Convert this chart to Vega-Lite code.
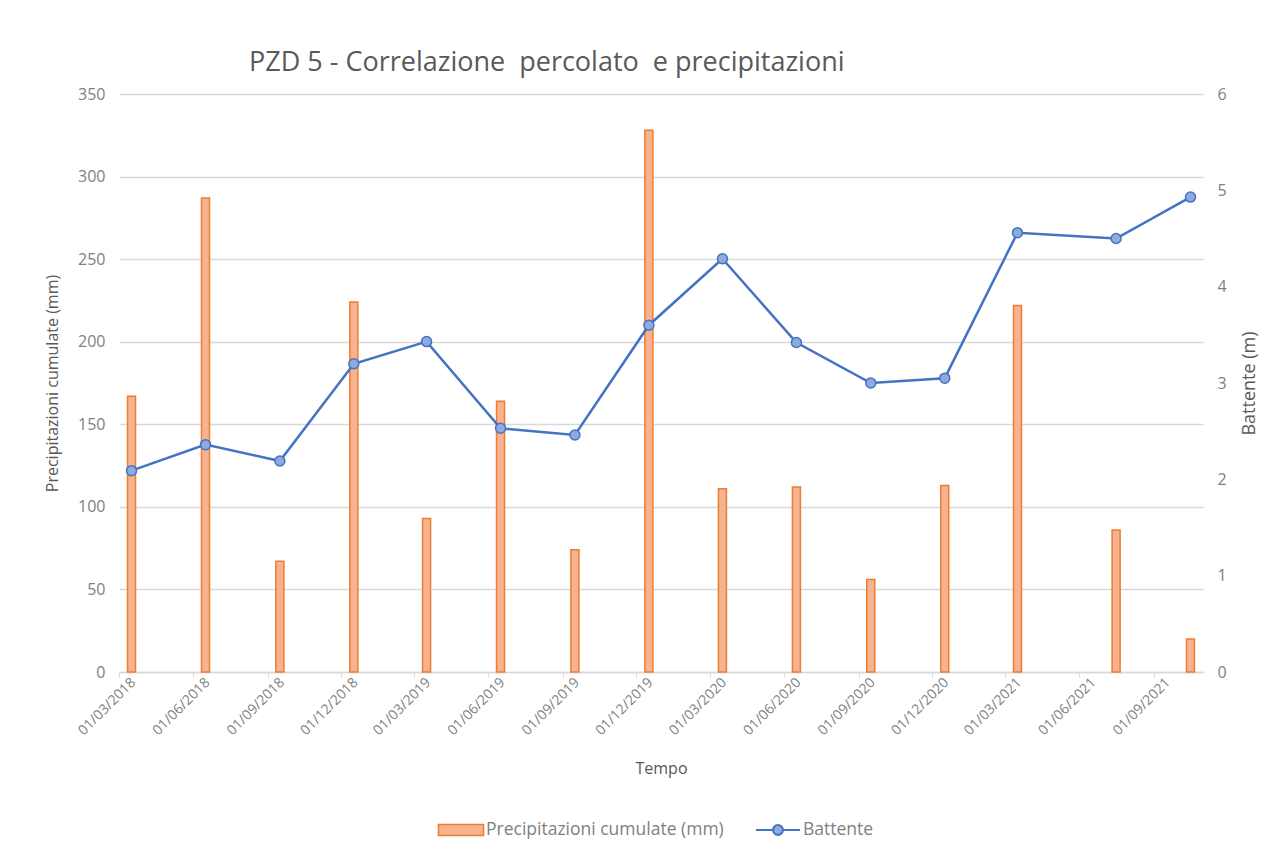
{
  "$schema": "https://vega.github.io/schema/vega-lite/v6.json",
  "width": 1084,
  "height": 578,
  "autosize": {"type": "none"},
  "padding": {"left": 119, "top": 94, "right": 76, "bottom": 180},
  "background": "white",
  "title": {
    "text": "PZD 5 - Correlazione\u00a0 percolato\u00a0 e precipitazioni",
    "anchor": "start",
    "frame": "group",
    "dx": 130,
    "offset": 9,
    "fontSize": 27,
    "fontWeight": "normal",
    "color": "#595959",
    "font": "Open Sans"
  },
  "config": {
    "view": {"stroke": null},
    "font": "Open Sans",
    "axis": {
      "labelColor": "#7F7F7F",
      "titleColor": "#595959",
      "titleFontWeight": "normal",
      "labelFont": "Open Sans",
      "titleFont": "Open Sans"
    },
    "legend": {
      "layout": {"bottom": {"anchor": "middle", "direction": "horizontal", "margin": 42}}
    }
  },
  "data": {
    "values": [
      {"data": "2018-03-01T00:00:00", "precipitazioni": 167, "battente": 2.09},
      {"data": "2018-06-01T00:00:00", "precipitazioni": 287, "battente": 2.36},
      {"data": "2018-09-01T00:00:00", "precipitazioni": 67, "battente": 2.19},
      {"data": "2018-12-01T00:00:00", "precipitazioni": 224, "battente": 3.2},
      {"data": "2019-03-01T00:00:00", "precipitazioni": 93, "battente": 3.43},
      {"data": "2019-06-01T00:00:00", "precipitazioni": 164, "battente": 2.53},
      {"data": "2019-09-01T00:00:00", "precipitazioni": 74, "battente": 2.46},
      {"data": "2019-12-01T00:00:00", "precipitazioni": 328, "battente": 3.6},
      {"data": "2020-03-01T00:00:00", "precipitazioni": 111, "battente": 4.29},
      {"data": "2020-06-01T00:00:00", "precipitazioni": 112, "battente": 3.42},
      {"data": "2020-09-01T00:00:00", "precipitazioni": 56, "battente": 3.0},
      {"data": "2020-12-01T00:00:00", "precipitazioni": 113, "battente": 3.05},
      {"data": "2021-03-01T00:00:00", "precipitazioni": 222, "battente": 4.56},
      {"data": "2021-07-01T00:00:00", "precipitazioni": 86, "battente": 4.5},
      {"data": "2021-10-01T00:00:00", "precipitazioni": 20, "battente": 4.93}
    ]
  },
  "encoding": {
    "x": {
      "field": "data",
      "type": "temporal",
      "timeUnit": "yearmonth",
      "bandPosition": 0.5,
      "title": "Tempo",
      "scale": {
        "domain": [
          {"year": 2018, "month": 3, "date": 1},
          {"year": 2021, "month": 11, "date": 1}
        ],
        "nice": false
      },
      "axis": {
        "values": [
          {"year": 2018, "month": 3, "date": 1},
          {"year": 2018, "month": 6, "date": 1},
          {"year": 2018, "month": 9, "date": 1},
          {"year": 2018, "month": 12, "date": 1},
          {"year": 2019, "month": 3, "date": 1},
          {"year": 2019, "month": 6, "date": 1},
          {"year": 2019, "month": 9, "date": 1},
          {"year": 2019, "month": 12, "date": 1},
          {"year": 2020, "month": 3, "date": 1},
          {"year": 2020, "month": 6, "date": 1},
          {"year": 2020, "month": 9, "date": 1},
          {"year": 2020, "month": 12, "date": 1},
          {"year": 2021, "month": 3, "date": 1},
          {"year": 2021, "month": 6, "date": 1},
          {"year": 2021, "month": 9, "date": 1}
        ],
        "format": "%d/%m/%Y",
        "labelAngle": -45,
        "labelAlign": "right",
        "labelBaseline": "middle",
        "labelOffset": 14,
        "labelFontSize": 14,
        "labelPadding": 3,
        "labelOverlap": false,
        "labelBound": false,
        "labelFlush": false,
        "tickSize": 5,
        "tickColor": "#D9D9D9",
        "domainColor": "#D9D9D9",
        "domainWidth": 1.5,
        "grid": false,
        "titleFontSize": 16,
        "titlePadding": 23
      }
    }
  },
  "layer": [
    {
      "mark": {
        "type": "bar",
        "width": 8,
        "stroke": "#ED7D31",
        "strokeWidth": 1.5
      },
      "encoding": {
        "y": {
          "field": "precipitazioni",
          "type": "quantitative",
          "title": "Precipitazioni cumulate (mm)",
          "scale": {"domain": [0, 350], "nice": false},
          "axis": {
            "values": [0, 50, 100, 150, 200, 250, 300, 350],
            "orient": "left",
            "domain": false,
            "ticks": false,
            "labelPadding": 14,
            "labelFontSize": 16,
            "grid": true,
            "gridColor": "#D9D9D9",
            "gridWidth": 1.3,
            "titleFontSize": 16,
            "titlePadding": 17
          }
        },
        "fill": {
          "datum": "Precipitazioni cumulate (mm)",
          "type": "nominal",
          "scale": {"range": ["#F7B38F"]},
          "legend": {
            "orient": "bottom",
            "title": null,
            "offset": 41,
            "symbolType": "M-2.05,-0.5H2.05V0.5H-2.05Z",
            "symbolSize": 484,
            "symbolStrokeColor": "#ED7D31",
            "symbolStrokeWidth": 1.5,
            "labelOffset": 13,
            "labelLimit": 500,
            "labelFontSize": 17.5,
            "labelColor": "#7F7F7F",
            "labelFont": "Open Sans"
          }
        }
      }
    },
    {
      "mark": {"type": "line", "strokeWidth": 2.5},
      "encoding": {
        "y": {
          "field": "battente",
          "type": "quantitative",
          "title": "Battente (m)",
          "scale": {"domain": [0, 6], "nice": false},
          "axis": {
            "values": [0, 1, 2, 3, 4, 5, 6],
            "orient": "right",
            "domain": false,
            "ticks": false,
            "grid": false,
            "labelPadding": 14,
            "labelFontSize": 16,
            "titleFontSize": 18,
            "titleAngle": -90,
            "titlePadding": 32
          }
        },
        "stroke": {
          "datum": "Battente",
          "type": "nominal",
          "scale": {"range": ["#4472C4"]},
          "legend": {
            "orient": "bottom",
            "title": null,
            "offset": 41,
            "symbolType": "M-2,0H-0.45M0.45,0H2M0.45,0A0.45,0.45 0 1,1 -0.45,0A0.45,0.45 0 1,1 0.45,0Z",
            "symbolSize": 484,
            "symbolStrokeWidth": 2,
            "labelOffset": 13,
            "labelLimit": 500,
            "labelFontSize": 17.5,
            "labelColor": "#7F7F7F",
            "labelFont": "Open Sans",
            "encode": {
              "symbols": {
                "update": {
                  "fill": {"value": "#8FAADC"},
                  "stroke": {"value": "#4472C4"},
                  "strokeWidth": {"value": 2}
                }
              }
            }
          }
        }
      }
    },
    {
      "mark": {
        "type": "point",
        "filled": true,
        "fill": "#8FAADC",
        "stroke": "#4472C4",
        "strokeWidth": 1.5,
        "size": 100,
        "opacity": 1
      },
      "encoding": {
        "y": {
          "field": "battente",
          "type": "quantitative",
          "scale": {"domain": [0, 6], "nice": false},
          "axis": null
        }
      }
    }
  ],
  "resolve": {"scale": {"y": "independent", "fill": "independent", "stroke": "independent"}}
}
